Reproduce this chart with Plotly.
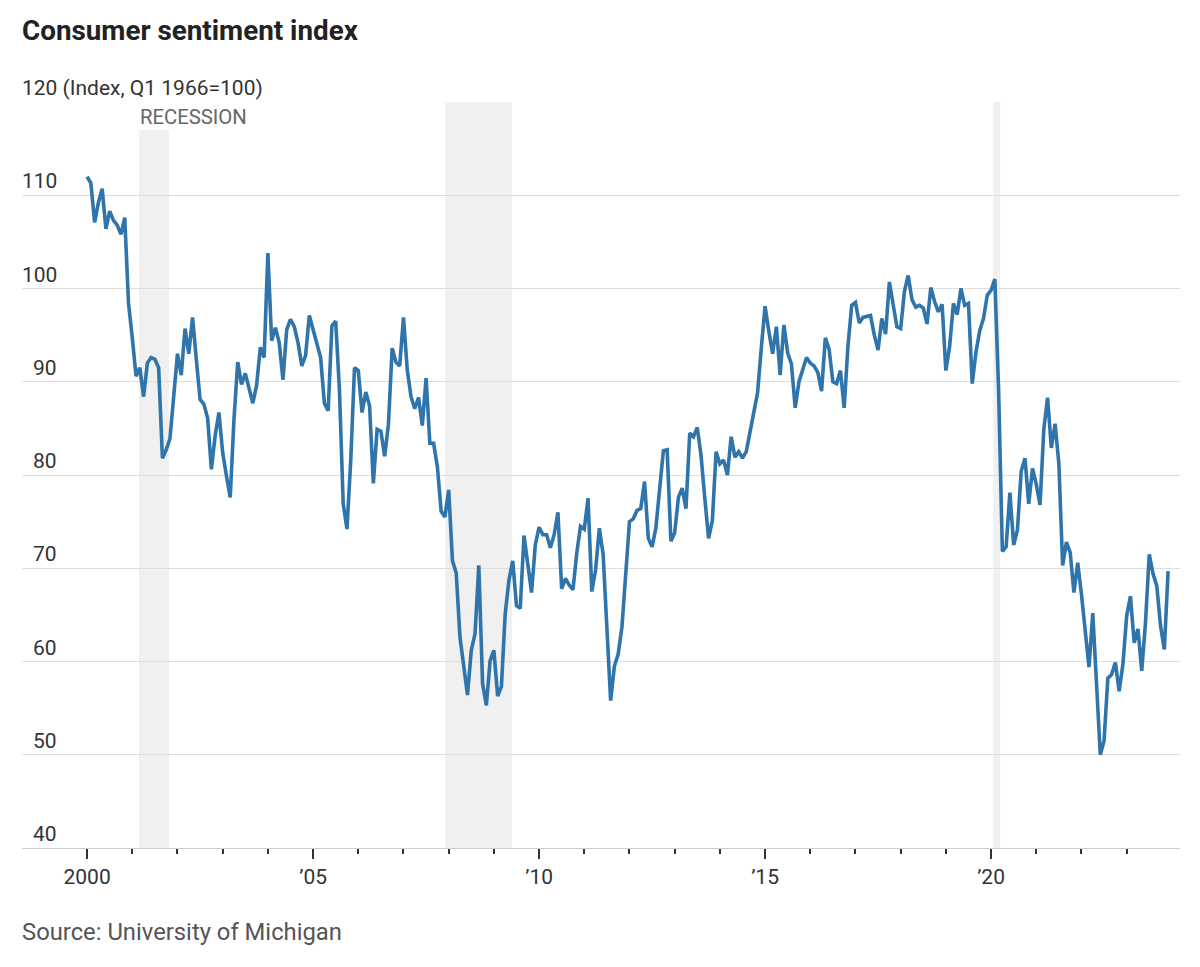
import plotly.graph_objects as go

# Monthly University of Michigan consumer sentiment, Jan 2000 - Dec 2023
start_year = 2000
s2000 = [112.0, 111.3, 107.1, 109.2, 110.7, 106.4, 108.3, 107.3, 106.8, 105.8, 107.6, 98.4]
s2001 = [94.7, 90.6, 91.5, 88.4, 92.0, 92.6, 92.4, 91.5, 81.8, 82.7, 83.9, 88.8]
s2002 = [93.0, 90.7, 95.7, 93.0, 96.9, 92.4, 88.1, 87.6, 86.1, 80.6, 84.2, 86.7]
s2003 = [82.4, 79.9, 77.6, 86.0, 92.1, 89.7, 90.9, 89.3, 87.7, 89.6, 93.7, 92.6]
s2004 = [103.8, 94.4, 95.8, 94.2, 90.2, 95.6, 96.7, 95.9, 94.2, 91.7, 92.8, 97.1]
s2005 = [95.5, 94.1, 92.6, 87.7, 86.9, 96.0, 96.5, 89.1, 76.9, 74.2, 81.6, 91.5]
s2006 = [91.2, 86.7, 88.9, 87.4, 79.1, 84.9, 84.7, 82.0, 85.4, 93.6, 92.1, 91.7]
s2007 = [96.9, 91.3, 88.4, 87.1, 88.3, 85.3, 90.4, 83.4, 83.4, 80.9, 76.1, 75.5]
s2008 = [78.4, 70.8, 69.5, 62.6, 59.8, 56.4, 61.2, 63.0, 70.3, 57.6, 55.3, 60.1]
s2009 = [61.2, 56.3, 57.3, 65.1, 68.7, 70.8, 66.0, 65.7, 73.5, 70.6, 67.4, 72.5]
s2010 = [74.4, 73.6, 73.6, 72.2, 73.6, 76.0, 67.8, 68.9, 68.2, 67.7, 71.6, 74.5]
s2011 = [74.2, 77.5, 67.5, 69.8, 74.3, 71.5, 63.7, 55.8, 59.5, 60.8, 63.7, 69.9]
s2012 = [75.0, 75.3, 76.2, 76.4, 79.3, 73.2, 72.3, 74.3, 78.3, 82.6, 82.7, 72.9]
s2013 = [73.8, 77.6, 78.6, 76.4, 84.5, 84.1, 85.1, 82.1, 77.5, 73.2, 75.1, 82.5]
s2014 = [81.2, 81.6, 80.0, 84.1, 81.9, 82.5, 81.8, 82.5, 84.6, 86.9, 88.8, 93.6]
s2015 = [98.1, 95.4, 93.0, 95.9, 90.7, 96.1, 93.1, 91.9, 87.2, 90.0, 91.3, 92.6]
s2016 = [92.0, 91.7, 91.0, 89.0, 94.7, 93.5, 90.0, 89.8, 91.2, 87.2, 93.8, 98.2]
s2017 = [98.5, 96.3, 96.9, 97.0, 97.1, 95.0, 93.4, 96.8, 95.1, 100.7, 98.5, 95.9]
s2018 = [95.7, 99.7, 101.4, 98.8, 98.0, 98.2, 97.9, 96.2, 100.1, 98.6, 97.5, 98.3]
s2019 = [91.2, 93.8, 98.4, 97.2, 100.0, 98.2, 98.4, 89.8, 93.2, 95.5, 96.8, 99.3]
s2020 = [99.8, 101.0, 89.1, 71.8, 72.3, 78.1, 72.5, 74.1, 80.4, 81.8, 76.9, 80.7]
s2021 = [79.0, 76.8, 84.9, 88.3, 82.9, 85.5, 81.2, 70.3, 72.8, 71.7, 67.4, 70.6]
s2022 = [67.2, 62.8, 59.4, 65.2, 58.4, 50.0, 51.5, 58.2, 58.6, 59.9, 56.8, 59.7]
s2023 = [64.9, 67.0, 62.0, 63.5, 59.0, 64.2, 71.5, 69.4, 68.1, 63.8, 61.3, 69.7]

yearly = [s2000, s2001, s2002, s2003, s2004, s2005, s2006, s2007, s2008, s2009,
          s2010, s2011, s2012, s2013, s2014, s2015, s2016, s2017, s2018, s2019,
          s2020, s2021, s2022, s2023]

# Recession periods (decimal years)
recession_start = [2001.15, 2007.92, 2020.05]
recession_end = [2001.81, 2009.40, 2020.20]

major_ticks = [2000, 2005, 2010, 2015, 2020]
major_labels = ["2000", "\u201905", "\u201910", "\u201915", "\u201920"]
minor_ticks = list(range(2000, 2024))
y_ticks = [40, 50, 60, 70, 80, 90, 100, 110, 120]

values = [v for yr in yearly for v in yr]
xs = [start_year + i / 12 for i in range(len(values))]

FONT = "Roboto"
LINE_COLOR = "#2f75ab"

fig = go.Figure()
fig.add_trace(go.Scatter(x=xs, y=values, mode="lines",
                         line=dict(color=LINE_COLOR, width=3.6),
                         hoverinfo="x+y", showlegend=False))

shapes = []
for i, (a, b) in enumerate(zip(recession_start, recession_end)):
    shapes.append(dict(type="rect", xref="x", yref="y", x0=a, x1=b,
                       y0=40, y1=117.0 if i == 0 else 120,
                       fillcolor="#f0f0f0", line=dict(width=0), layer="below"))

annotations = []
for v in y_ticks:
    if v == 120:
        annotations.append(dict(text="120 (Index, Q1 1966=100)", xref="paper", x=0,
                                xanchor="left", yref="y", y=v, yanchor="bottom",
                                showarrow=False, yshift=0, xshift=-2,
                                font=dict(family=FONT, size=21, color="#333")))
    else:
        annotations.append(dict(text=str(v), xref="paper", x=0.0318,
                                xanchor="right", yref="y", y=v, yanchor="bottom",
                                showarrow=False, yshift=0,
                                font=dict(family=FONT, size=21, color="#333")))

annotations.append(dict(text="<b>Consumer sentiment index</b>", xref="paper", x=0,
                        xanchor="left", yref="paper", y=1.0965, yanchor="middle",
                        showarrow=False, xshift=-2,
                        font=dict(family=FONT, size=27.8, color="#222")))
annotations.append(dict(text="Source: University of Michigan", xref="paper", x=0,
                        xanchor="left", yref="paper", y=-0.1126, yanchor="middle",
                        showarrow=False, xshift=-2,
                        font=dict(family=FONT, size=23.8, color="#555")))
annotations.append(dict(text="RECESSION", xref="x", x=recession_start[0],
                        xanchor="left", yref="y", y=118.4, yanchor="middle",
                        showarrow=False, xshift=-1,
                        font=dict(family=FONT, size=20.3, color="#666")))

fig.update_layout(
    width=1200, height=967,
    margin=dict(l=22, r=20, t=102, b=119),
    paper_bgcolor="white", plot_bgcolor="white",
    shapes=shapes, annotations=annotations,
    font=dict(family=FONT, color="#333"),
    xaxis=dict(range=[1998.56, 2024.18], showgrid=False, zeroline=False,
               tickmode="array", tickvals=major_ticks, ticktext=major_labels,
               ticks="outside", ticklen=10, tickwidth=2, tickcolor="#333",
               showline=True, linecolor="#cfcfcf", linewidth=1,
               tickfont=dict(family=FONT, size=21, color="#333"),
               minor=dict(tickmode="array", tickvals=minor_ticks, ticks="outside",
                          ticklen=5, tickwidth=2, tickcolor="#333", showgrid=False)),
    yaxis=dict(range=[40, 120], tickmode="array", tickvals=y_ticks,
               showticklabels=False, showgrid=True, gridcolor="#dedede",
               gridwidth=1, zeroline=False, showline=False, ticks=""),
)

fig.write_html("out.html", config={"displayModeBar": False},
               post_script="document.body.style.margin='0';")
